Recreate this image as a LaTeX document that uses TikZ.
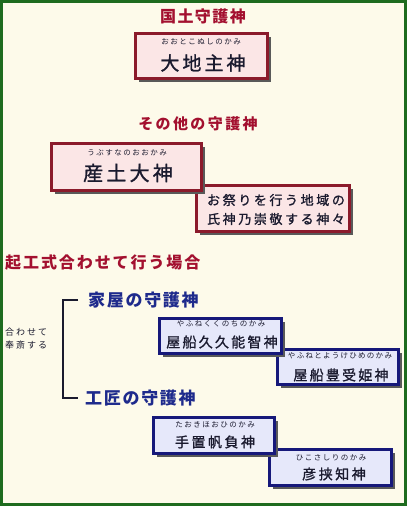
\documentclass[tikz,border=0pt]{standalone}
\usepackage{fontspec}
\setmainfont{Noto Sans CJK JP}
\usetikzlibrary{shadows}
\definecolor{bgcream}{HTML}{FDFAEA}
\definecolor{framegreen}{HTML}{1E6B1E}
\definecolor{titlered}{HTML}{A3102F}
\definecolor{titleblue}{HTML}{1E2A8C}
\definecolor{redborder}{HTML}{8B1A2B}
\definecolor{redfill}{HTML}{FBE6E6}
\definecolor{blueborder}{HTML}{16187A}
\definecolor{bluefill}{HTML}{E6E8FA}
\definecolor{inktext}{HTML}{1A1A2E}
\newcommand\jsz[2]{\fontsize{#1}{#1}\selectfont\addfontfeatures{LetterSpace=#2}}
\newcommand\jszb[2]{\fontsize{#1}{#1}\selectfont\addfontfeatures{LetterSpace=#2,FakeBold=1.2}}
\tikzset{
  redbox/.style={draw=redborder, line width=2.8pt, fill=redfill,
    drop shadow={shadow xshift=3pt, shadow yshift=-3pt, fill=black!65, opacity=1}},
  bluebox/.style={draw=blueborder, line width=2.8pt, fill=bluefill,
    drop shadow={shadow xshift=3pt, shadow yshift=-3pt, fill=black!65, opacity=1}},
  rubytext/.style={inner sep=0pt, text=inktext, font=\jsz{7.5}{20}},
  maintext/.style={inner sep=0pt, text=inktext, font=\jszb{16}{14}},
  bigtext/.style={inner sep=0pt, text=inktext, font=\jszb{19}{16}},
  redtitle/.style={inner sep=0pt, text=titlered, font=\bfseries\jsz{16}{9}},
  bluetitle/.style={inner sep=0pt, text=titleblue, font=\bfseries\jsz{17}{10}},
  notetext/.style={inner sep=0pt, text=inktext, font=\jsz{9}{22}},
}
\begin{document}
\begin{tikzpicture}[x=1pt,y=-1pt]
\useasboundingbox (0,0) rectangle (407,506);
\fill[framegreen] (0,0) rectangle (407,506);
\fill[bgcream] (3,3) rectangle (404,503);

% Section 1
\node[redtitle] (t1) at (203,16) {国土守護神};
\node[redbox, minimum width=132pt, minimum height=45pt] (b1) at (201.5,56) {};
\node[rubytext] (b1r) at (201,42) {おおとこぬしのかみ};
\node[bigtext] (b1m) at (203,63) {大地主神};

% Section 2
\node[redtitle, font=\bfseries\jsz{15}{16}] (t2) at (198,124) {その他の守護神};
\node[redbox, minimum width=153pt, minimum height=46pt] (b3) at (273,208.5) {};
\node[maintext, font=\jszb{13}{20}] (b3a) at (276,200) {お祭りを行う地域の};
\node[maintext, font=\jszb{13}{20}] (b3b) at (276,219) {氏神乃崇敬する神々};
\node[redbox, minimum width=150pt, minimum height=47pt] (b2) at (126.5,167) {};
\node[rubytext] (b2r) at (127,153) {うぶすなのおおかみ};
\node[bigtext, font=\jszb{20}{16}] (b2m) at (128,173) {産土大神};

% Section 3
\node[redtitle, anchor=west, font=\bfseries\jsz{16}{12}] (t3) at (5,263) {起工式合わせて行う場合};
\coordinate (k1) at (78,300);
\coordinate (k2) at (63,300);
\coordinate (k3) at (63,398);
\coordinate (k4) at (78,398);
\draw[inktext, line width=1.5pt] (k1) -- (k2) -- (k3) -- (k4);
\node[bluetitle, anchor=west] (h1) at (88,300) {家屋の守護神};
\node[bluetitle, anchor=west] (h2) at (85,398) {工匠の守護神};
\node[notetext, anchor=west] (n1) at (5,332) {合わせて};
\node[notetext, anchor=west] (n2) at (5,345) {奉斎する};

\node[bluebox, minimum width=121pt, minimum height=35pt] (b5) at (338,367) {};
\node[rubytext, font=\jsz{7.5}{17}] (b5r) at (340,356) {やふねとようけひめのかみ};
\node[maintext, font=\jszb{14}{16}] (b5m) at (341,375) {屋船豊受姫神};
\node[bluebox, minimum width=122pt, minimum height=35pt] (b4) at (220.5,336) {};
\node[rubytext, font=\jsz{7.5}{20}] (b4r) at (221,324) {やふねくくのちのかみ};
\node[maintext, font=\jszb{14}{16}] (b4m) at (222,342) {屋船久久能智神};

\node[bluebox, minimum width=122pt, minimum height=36pt] (b7) at (330.5,467.5) {};
\node[rubytext, font=\jsz{7.5}{20}] (b7r) at (331,458) {ひこさしりのかみ};
\node[maintext, font=\jszb{14}{18}] (b7m) at (334,474) {彦挟知神};
\node[bluebox, minimum width=121pt, minimum height=36pt] (b6) at (214,435.5) {};
\node[rubytext, font=\jsz{7.5}{20}] (b6r) at (215,425) {たおきほおひのかみ};
\node[maintext, font=\jszb{14}{18}] (b6m) at (215,442) {手置帆負神};
\end{tikzpicture}
\end{document}
